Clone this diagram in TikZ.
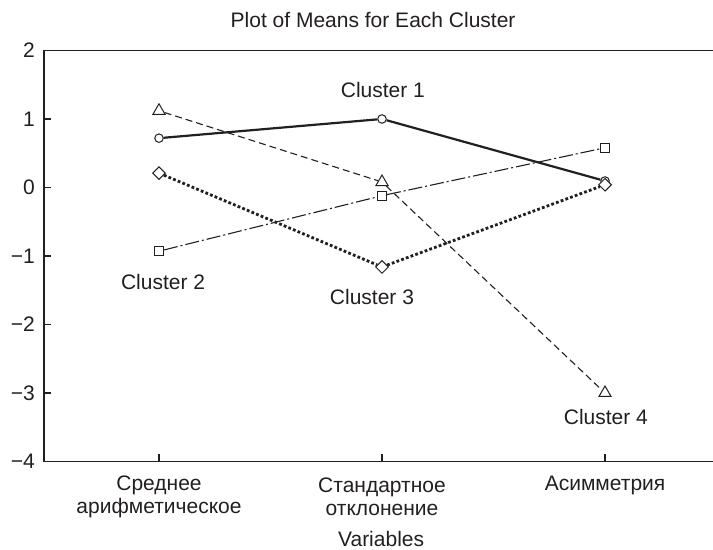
\documentclass[tikz,border=0pt]{standalone}
\usepackage{fontspec}
\setmainfont{Liberation Sans}
\usepackage{tikz}
\usetikzlibrary{shapes.geometric, positioning}
\definecolor{ink}{RGB}{35,31,32}

\begin{document}
\begin{tikzpicture}[x=223pt, y=68.5pt, every node/.style={inner sep=0pt, color=ink},
  lbl/.style={font=\fontsize{21}{23}\selectfont, align=center},
  axis/.style={draw=ink, line width=1.6pt},
  mk/.style={draw=ink, fill=white, line width=1pt},
  circmk/.style={mk, circle, minimum size=8.5pt},
  sqmk/.style={mk, rectangle, minimum size=9pt},
  diamk/.style={mk, diamond, minimum size=13pt},
  trimk/.style={mk, regular polygon, regular polygon sides=3, minimum size=14pt},
  solidln/.style={draw=ink, line width=2.2pt},
  dashdotln/.style={draw=ink, line width=1.1pt, dash pattern=on 14pt off 3pt on 2pt off 3pt},
  dotln/.style={draw=ink, line width=2.8pt, dash pattern=on 2.8pt off 2.2pt},
  dashln/.style={draw=ink, line width=1.1pt, dash pattern=on 7pt off 4pt}]
\useasboundingbox (0.2870,-5.292) rectangle (3.4843,2.737);

% axes
\coordinate (tl) at (0.4843,2);
\coordinate (bl) at (0.4843,-4);
\coordinate (tr) at (3.4843,2);
\coordinate (br) at (3.4843,-4);
\draw[axis] (tr) -- (tl) -- (bl) -- (br);
\foreach \v/\t in {2/2, 1/1, 0/0, -1/−1, -2/−2, -3/−3, -4/−4} {
  \draw[axis] (0.4843,\v) -- ++(7pt,0);
  \node[lbl, anchor=east] (yt\t) at (0.444,\v) {\t};
}
\foreach \c in {1,2,3}
  \draw[axis] (\c,-4) -- ++(0,7pt);

\node[lbl] (title) at (1.96,2.445) {Plot of Means for Each Cluster};
\node[lbl] (var1) at (1,-4.511) {Среднее\\арифметическое};
\node[lbl] (var2) at (2,-4.511) {Стандартное\\отклонение};
\node[lbl] (var3) at (3,-4.343) {Асимметрия};
\node[lbl] (xlab) at (1.996,-5.138) {Variables};

% cluster means
\node[circmk] (c1a) at (1,0.72) {};
\node[circmk] (c1b) at (2,1.0) {};
\node[circmk] (c1c) at (3,0.095) {};
\node[sqmk] (c2a) at (1,-0.93) {};
\node[sqmk] (c2b) at (2,-0.12) {};
\node[sqmk] (c2c) at (3,0.58) {};
\node[diamk] (c3a) at (1,0.21) {};
\node[diamk] (c3b) at (2,-1.16) {};
\node[diamk] (c3c) at (3,0.04) {};
\node[trimk] (c4a) at (1,1.12) {};
\node[trimk] (c4b) at (2,0.08) {};
\node[trimk] (c4c) at (3,-3.0) {};

\draw[dashln] (c4a) -- (c4b) -- (c4c);
\draw[dashdotln] (c2a) -- (c2b) -- (c2c);
\draw[dotln] (c3a) -- (c3b) -- (c3c);
\draw[solidln] (c1a) -- (c1b) -- (c1c);

\node[lbl] (cl1) at (2.004,1.423) {Cluster 1};
\node[lbl] (cl2) at (1.018,-1.380) {Cluster 2};
\node[lbl] (cl3) at (1.955,-1.599) {Cluster 3};
\node[lbl] (cl4) at (3.004,-3.350) {Cluster 4};
\end{tikzpicture}
\end{document}
